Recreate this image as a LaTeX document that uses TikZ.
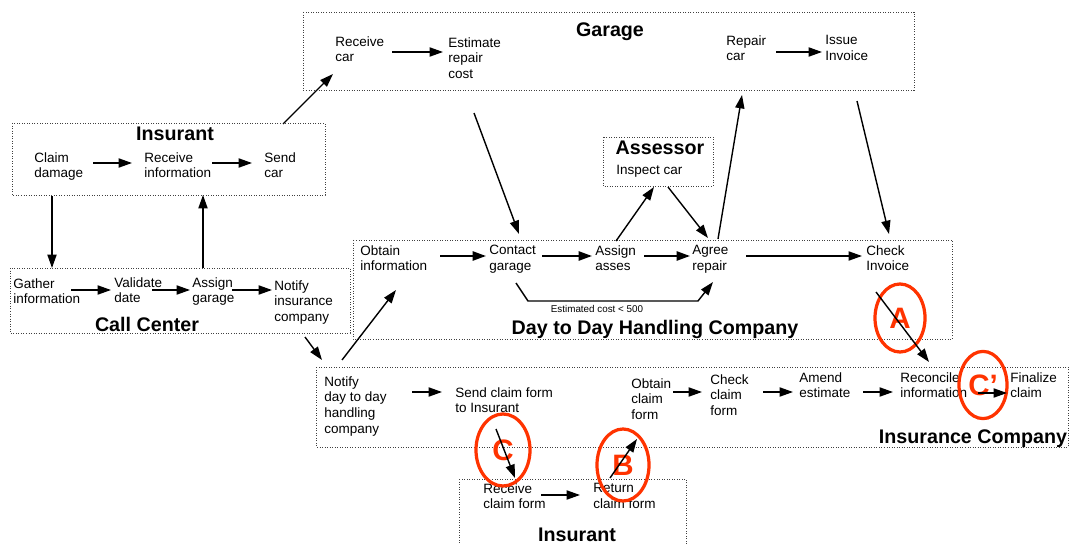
\documentclass[tikz,border=0pt]{standalone}
\usepackage{fontspec}
\setmainfont{Liberation Sans}
\usepackage{tikz}
\usetikzlibrary{arrows.meta,calc,shapes.geometric}
\definecolor{marker}{RGB}{255,51,0}
\tikzset{
    lane/.style={draw=black!75, line width=0.4pt, dash pattern=on 0.6pt off 1.2pt},
    act/.style={inner sep=0pt, anchor=north west, align=left,
        font=\fontsize{9.6}{11.3}\selectfont},
    lanetitle/.style={inner sep=0pt, anchor=base,
        font=\fontsize{14}{16}\selectfont\bfseries},
    cost/.style={inner sep=0pt, font=\fontsize{7}{8}\selectfont},
    arr/.style={line width=1pt, -{Triangle[length=9.5pt,width=6.5pt]}},
    heavy/.style={line width=1.5pt},
    ring/.style={ellipse, draw=marker, line width=2.3pt, inner sep=0pt,
        text=marker, font=\fontsize{21}{24}\selectfont\bfseries}
}

\begin{document}
\begin{tikzpicture}[x=0.025cm, y=-0.025cm]
\useasboundingbox (0,0) rectangle (1070,544);

% Corsie
\draw[lane] (303,12) rectangle (914,90);
\draw[lane] (12,123) rectangle (325,195);
\draw[lane] (10,268) rectangle (350,333);
\draw[lane] (353,240) rectangle (952,339);
\draw[lane] (603,137) rectangle (713,186);
\draw[lane] (316,367) rectangle (1068,447);
\draw[lane] (459,479) rectangle (686,560);

% Garage
\node[lanetitle] (tGarage) at (610,37) {Garage};
\node[act] (gRecv) at (335,36) {Receive\\car};
\node[act] (gEst) at (448,37) {Estimate\\repair\\cost};
\node[act] (gRep) at (726,35) {Repair\\car};
\node[act] (gInv) at (825,35) {Issue\\Invoice};

% Insurant (sopra)
\node[lanetitle] (tInsA) at (175,141) {Insurant};
\node[act] (iClaim) at (34,152) {Claim\\damage};
\node[act] (iRecv) at (144,152) {Receive\\information};
\node[act] (iSend) at (264,152) {Send\\car};

% Call Center
\node[lanetitle] (tCall) at (147,331) {Call Center};
\node[act] (cGath) at (13,278) {Gather\\information};
\node[act] (cVal) at (114,277) {Validate\\date};
\node[act] (cAsg) at (192,277) {Assign\\garage};
\node[act] (cNot) at (274,280) {Notify\\insurance\\company};

% Assessor
\node[lanetitle] (tAss) at (660,155) {Assessor};
\node[act] (aIns) at (616,165) {Inspect car};

% Day to Day
\node[lanetitle] (tDtd) at (655,334) {Day to Day Handling Company};
\node[act] (dObt) at (360,245) {Obtain\\information};
\node[act] (dCon) at (489,245) {Contact\\garage};
\node[act] (dAsg) at (595,245) {Assign\\asses};
\node[act] (dAgr) at (692,245) {Agree\\repair};
\node[act] (dChk) at (866,245) {Check\\Invoice};
\node[cost] (estcost) at (597,309) {Estimated cost < 500};

% Insurance Company
\node[lanetitle] (tInsCo) at (973,443) {Insurance Company};
\node[act] (kNot) at (324,376) {Notify\\day to day\\handling\\company};
\node[act] (kSend) at (455,387) {Send claim form\\to Insurant};
\node[act] (kObt) at (631,378) {Obtain\\claim\\form};
\node[act] (kChk) at (710,374) {Check\\claim\\form};
\node[act] (kAme) at (799,372) {Amend\\estimate};
\node[act] (kRec) at (900,372) {Reconcile\\information};
\node[act] (kFin) at (1010,372) {Finalize\\claim};

% Insurant (sotto)
\node[lanetitle] (tInsB) at (577,541) {Insurant};
\node[act] (bRecv) at (483,483) {Receive\\claim form};
\node[act] (bRet) at (593,483) {Return\\claim form};

% Cerchi rossi
\node[ring, minimum width=1.25cm, minimum height=1.7cm] (ringA) at (900,318) {A};
\node[ring, minimum width=1.2cm, minimum height=1.68cm] (ringCc) at (983,385) {C’};
\node[ring, minimum width=1.35cm, minimum height=1.8cm] (ringC) at (503,450) {C};
\node[ring, minimum width=1.3cm, minimum height=1.8cm] (ringB) at (623,465) {B};

% Frecce dentro le corsie
\draw[arr] ($(gRecv.north west)+(57,16)$) -- ($(gEst.north west)+(-5,15)$);
\draw[arr] ($(gRep.north west)+(50,17)$) -- ($(gInv.north west)+(-3,17)$);
\draw[arr] ($(iClaim.north west)+(59,11)$) -- ($(iRecv.north west)+(-12,11)$);
\draw[arr] ($(iRecv.north west)+(68,11)$) -- ($(iSend.north west)+(-12,11)$);
\draw[arr] ($(cGath.north west)+(58,12)$) -- ($(cVal.north west)+(-3,13)$);
\draw[arr] ($(cVal.north west)+(38,13)$) -- ($(cAsg.north west)+(-2,13)$);
\draw[arr] ($(cAsg.north west)+(40,13)$) -- ($(cNot.north west)+(-2,10)$);
\draw[arr, heavy] ($(dObt.north west)+(80,11)$) -- ($(dCon.north west)+(-3,11)$);
\draw[arr, heavy] ($(dCon.north west)+(53,11)$) -- ($(dAsg.north west)+(-3,11)$);
\draw[arr, heavy] ($(dAsg.north west)+(49,11)$) -- ($(dAgr.north west)+(-2,11)$);
\draw[arr] ($(dAgr.north west)+(54,11)$) -- ($(dChk.north west)+(-4,11)$);
\draw[arr] ($(kNot.north west)+(88,16)$) -- ($(kSend.north west)+(-13,5)$);
\draw[arr] ($(kObt.north west)+(42,14)$) -- ($(kChk.north west)+(-8,18)$);
\draw[arr] ($(kChk.north west)+(53,18)$) -- ($(kAme.north west)+(-6,20)$);
\draw[arr] ($(kAme.north west)+(64,20)$) -- ($(kRec.north west)+(-7,20)$);
\draw[arr] ($(kRec.north west)+(78,21)$) -- ($(kFin.north west)+(-3,21)$);
\draw[arr] ($(bRecv.north west)+(58,12)$) -- ($(bRet.north west)+(-13,12)$);

% Costo stimato
\draw[arr] ($(dCon.north west)+(27,38)$) -- ++(12,18)
    -- ($(dAgr.north west)+(6,56)$) -- ($(dAgr.north west)+(21,37)$);

% Frecce tra le corsie
\draw[arr] ($(iClaim.north west)+(18,44)$) -- ($(cGath.north west)+(39,-10)$);
\draw[arr] ($(cAsg.north west)+(11,-9)$) -- ($(iRecv.north west)+(59,43)$);
\draw[arr] ($(iSend.north west)+(19,-28)$) -- ($(gRecv.north west)+(-2,38)$);
\draw[arr] ($(cNot.north west)+(31,57)$) -- ($(kNot.north west)+(-2,-16)$);
\draw[arr] ($(kNot.north west)+(18,-16)$) -- ($(dObt.north west)+(36,45)$);
\draw[arr] ($(gEst.north west)+(26,76)$) -- ($(dCon.north west)+(30,-11)$);
\draw[arr] ($(dAsg.north west)+(21,-4)$) -- ($(aIns.north west)+(38,22)$);
\draw[arr] ($(aIns.north west)+(52,22)$) -- ($(dAgr.north west)+(16,-7)$);
\draw[arr] ($(dAgr.north west)+(26,-6)$) -- ($(gRep.north west)+(16,60)$);
\draw[arr] ($(gInv.north west)+(32,66)$) -- ($(dChk.north west)+(23,-11)$);
\draw[arr] ($(dChk.north west)+(10,47)$) -- ($(kRec.north west)+(29,-10)$);
\draw[arr] ($(kSend.north west)+(41,42)$) -- ($(bRecv.north west)+(32,-5)$);
\draw[arr] ($(bRet.north west)+(17,-5)$) -- ($(kObt.north west)+(6,61)$);

\end{tikzpicture}
\end{document}
